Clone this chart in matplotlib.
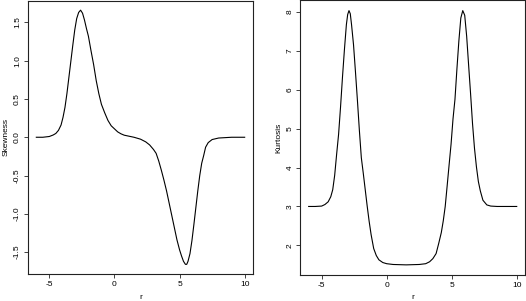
#!/usr/bin/env python3
# -*- coding: utf-8 -*-
"""
Asimetría y curtosis en función de r
"""
#%%
# Celda 1: Configuración
import matplotlib
matplotlib.use('Agg')
import matplotlib.pyplot as plt

plt.rcParams['font.family'] = ['Liberation Sans', 'DejaVu Sans']
plt.rcParams['axes.unicode_minus'] = False

figsize = (5.26, 3.01)
dpi = 100

#%% Datos
r_skew = [-6.0, -5.5, -5.0, -4.7, -4.5, -4.3, -4.1, -3.95, -3.8, -3.65,
          -3.5, -3.35, -3.2, -3.05, -2.9, -2.75, -2.6, -2.45, -2.3, -2.15,
          -2.0, -1.8, -1.6, -1.4, -1.2, -1.0, -0.75, -0.5, -0.25, 0.0,
          0.25, 0.5, 0.75, 1.0, 1.5, 2.0, 2.4, 2.7, 3.0, 3.2,
          3.4, 3.6, 3.8, 4.0, 4.2, 4.4, 4.6, 4.8, 5.0, 5.15,
          5.3, 5.45, 5.55, 5.65, 5.8, 5.95, 6.1, 6.25, 6.4, 6.55,
          6.7, 6.85, 7.0, 7.2, 7.5, 8.0, 9.0, 10.0]
skewness = [0.0, 0.0, 0.01, 0.03, 0.05, 0.09, 0.16, 0.26, 0.39, 0.57,
            0.78, 0.99, 1.20, 1.40, 1.55, 1.63, 1.66, 1.62, 1.53, 1.42,
            1.32, 1.13, 0.95, 0.74, 0.57, 0.43, 0.32, 0.22, 0.15, 0.11,
            0.07, 0.045, 0.027, 0.018, 0.0, -0.025, -0.06, -0.10, -0.16, -0.21,
            -0.31, -0.43, -0.56, -0.70, -0.86, -1.02, -1.18, -1.34, -1.47, -1.55,
            -1.62, -1.66, -1.66, -1.62, -1.52, -1.35, -1.14, -0.92, -0.70, -0.50,
            -0.34, -0.24, -0.13, -0.07, -0.03, -0.01, 0.0, 0.0]

r_kurt = [-6.0, -5.5, -5.0, -4.75, -4.5, -4.3, -4.15, -4.0, -3.85, -3.7,
          -3.55, -3.4, -3.25, -3.1, -3.0, -2.9, -2.8, -2.7, -2.55, -2.4,
          -2.25, -2.1, -1.95, -1.8, -1.65, -1.5, -1.35, -1.2, -1.0, -0.8,
          -0.6, -0.3, 0.0, 0.5, 1.5, 2.5, 3.0, 3.3, 3.55, 3.8,
          4.0, 4.2, 4.35, 4.5, 4.65, 4.8, 4.95, 5.1, 5.25, 5.4,
          5.55, 5.7, 5.85, 6.0, 6.15, 6.3, 6.45, 6.6, 6.75, 6.9,
          7.05, 7.2, 7.4, 7.7, 8.0, 8.5, 10.0]
kurtosis = [3.0, 3.0, 3.01, 3.05, 3.12, 3.25, 3.43, 3.80, 4.34, 4.85,
            5.55, 6.32, 7.03, 7.67, 7.93, 8.03, 7.95, 7.66, 7.15, 6.45,
            5.72, 4.95, 4.25, 3.85, 3.43, 3.01, 2.62, 2.28, 1.92, 1.74,
            1.63, 1.56, 1.53, 1.51, 1.50, 1.51, 1.53, 1.58, 1.66, 1.79,
            2.05, 2.33, 2.63, 3.0, 3.53, 4.07, 4.60, 5.25, 5.75, 6.53,
            7.25, 7.84, 8.03, 7.91, 7.37, 6.63, 5.90, 5.13, 4.50, 4.02,
            3.64, 3.40, 3.16, 3.04, 3.01, 3.0, 3.0]

x_ticks = [-5, 0, 5, 10]
skew_ticks = [-1.5, -1.0, -0.5, 0.0, 0.5, 1.0, 1.5]
kurt_ticks = [2, 3, 4, 5, 6, 7, 8]

#%% Figura con dos paneles
fig = plt.figure(figsize=figsize, dpi=dpi)
ax1 = fig.add_axes([0.0532, 0.0897, 0.4278, 0.9086])
ax2 = fig.add_axes([0.571, 0.0864, 0.4272, 0.9120])


def estilo(ax, yticks, ylabel):
    # Aspecto tipo R base: caja completa, etiquetas del eje y giradas
    for sp in ax.spines.values():
        sp.set_linewidth(0.8)
        sp.set_color('#222222')
    ax.set_xticks(x_ticks)
    ax.set_yticks(yticks)
    ax.set_yticklabels([f'{t:g}' if isinstance(t, int) else f'{t:.1f}'
                        for t in yticks], rotation=90, va='center')
    ax.tick_params(labelsize=6, length=3, width=0.6, pad=2, color='#222222')
    ax.set_xlabel('r', fontsize=6, labelpad=4)
    ax.set_ylabel(ylabel, fontsize=6, labelpad=3)
    ax.set_xlim(-6.64, 10.64)


ax1.plot(r_skew, skewness, color='black', linewidth=0.8)
estilo(ax1, skew_ticks, 'Skewness')
ax1.set_ylim(-1.786, 1.786)

ax2.plot(r_kurt, kurtosis, color='black', linewidth=0.8)
estilo(ax2, kurt_ticks, 'Kurtosis')
ax2.set_ylim(1.24, 8.29)

fig.savefig('out.png', dpi=dpi)
